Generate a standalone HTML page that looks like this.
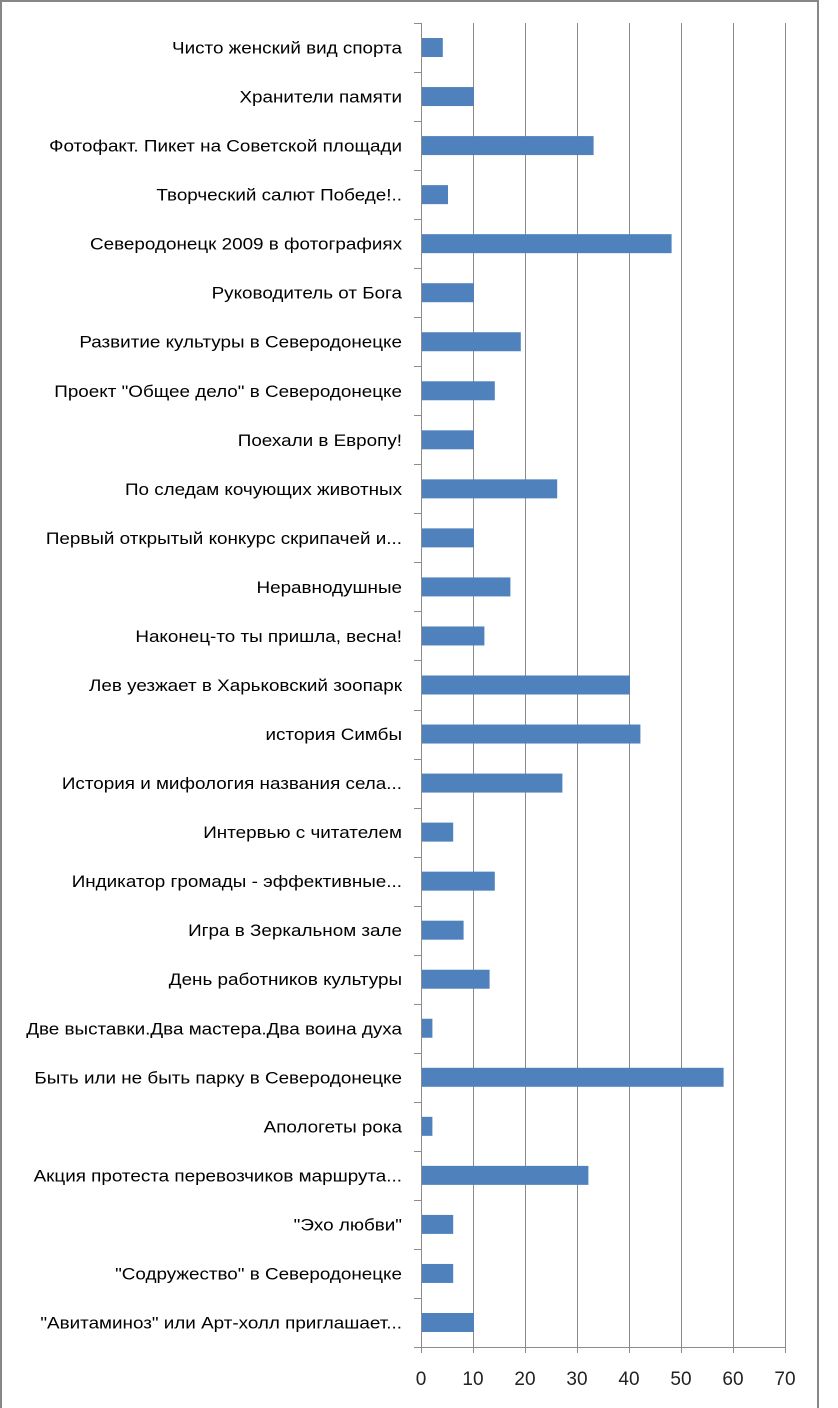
<!DOCTYPE html>
<html><head><meta charset="utf-8"><style>
html,body{margin:0;padding:0;background:#fff;width:838px;height:1408px;overflow:hidden}
</style></head><body>
<svg width="838" height="1408" xmlns="http://www.w3.org/2000/svg" font-family="Liberation Sans, sans-serif" font-size="17" fill="#000">
<rect x="1" y="1" width="817" height="1420" fill="#fff" stroke="#878787" stroke-width="2"/>
<g stroke="#8c8c8c" stroke-width="1">
<line x1="473.5" y1="23" x2="473.5" y2="1352"/>
<line x1="525.5" y1="23" x2="525.5" y2="1352"/>
<line x1="577.5" y1="23" x2="577.5" y2="1352"/>
<line x1="629.5" y1="23" x2="629.5" y2="1352"/>
<line x1="681.5" y1="23" x2="681.5" y2="1352"/>
<line x1="733.5" y1="23" x2="733.5" y2="1352"/>
<line x1="785.5" y1="23" x2="785.5" y2="1352"/>
<line x1="421.5" y1="23" x2="421.5" y2="1352"/>
<line x1="414" y1="1347.5" x2="786" y2="1347.5"/>
</g>
<g id="t" stroke="#8c8c8c"></g>
<g id="b" fill="#4f81bd"></g>
<g id="l"></g>
<g font-size="19" text-anchor="middle" fill="#222">
<text x="421" y="1385">0</text><text x="473" y="1385">10</text><text x="525" y="1385">20</text><text x="577" y="1385">30</text><text x="629" y="1385">40</text><text x="681" y="1385">50</text><text x="733" y="1385">60</text><text x="785" y="1385">70</text>
</g>
</svg>
<script>
var d=[["Чисто женский вид спорта",4],["Хранители памяти",10],["Фотофакт. Пикет на Советской площади",33],["Творческий салют Победе!..",5],["Северодонецк 2009 в фотографиях",48],["Руководитель от Бога",10],["Развитие культуры в Северодонецке",19],["Проект \"Общее дело\" в Северодонецке",14],["Поехали в Европу!",10],["По следам кочующих животных",26],["Первый открытый конкурс скрипачей  и...",10],["Неравнодушные",17],["Наконец-то ты пришла, весна!",12],["Лев уезжает в Харьковский зоопарк",40],["история Симбы",42],["История и мифология названия села...",27],["Интервью с читателем",6],["Индикатор громады - эффективные...",14],["Игра в Зеркальном зале",8],["День работников культуры",13],["Две выставки.Два мастера.Два воина духа",2],["Быть или не быть парку в Северодонецке",58],["Апологеты рока",2],["Акция протеста перевозчиков маршрута...",32],["\"Эхо любви\"",6],["\"Содружество\" в Северодонецке",6],["\"Авитаминоз\" или Арт-холл приглашает...",10]];
var ns="http://www.w3.org/2000/svg",t=document.getElementById('t'),b=document.getElementById('b'),l=document.getElementById('l');
function el(n,a,p){var e=document.createElementNS(ns,n);for(var k in a)e.setAttribute(k,a[k]);p.appendChild(e);return e;}
var step=(1347-23)/27;
for(var i=0;i<=27;i++){var y=Math.round(23+i*step)+0.5;el('line',{x1:414,y1:y,x2:421,y2:y},t);}
for(var i=0;i<=7;i++){el('line',{x1:421.5+i*52,y1:1347,x2:421.5+i*52,y2:1353},t);}
d.forEach(function(r,i){var c=23+(i+0.5)*step;
el('rect',{x:422,y:c-9.5,width:r[1]*5.2,height:19},b);
var g=el('g',{transform:'translate(402,'+(c+6)+') scale(1.11,1)'},l);
var tx=el('text',{x:0,y:0,'text-anchor':'end'},g);tx.textContent=r[0];});
</script>
</body></html>
